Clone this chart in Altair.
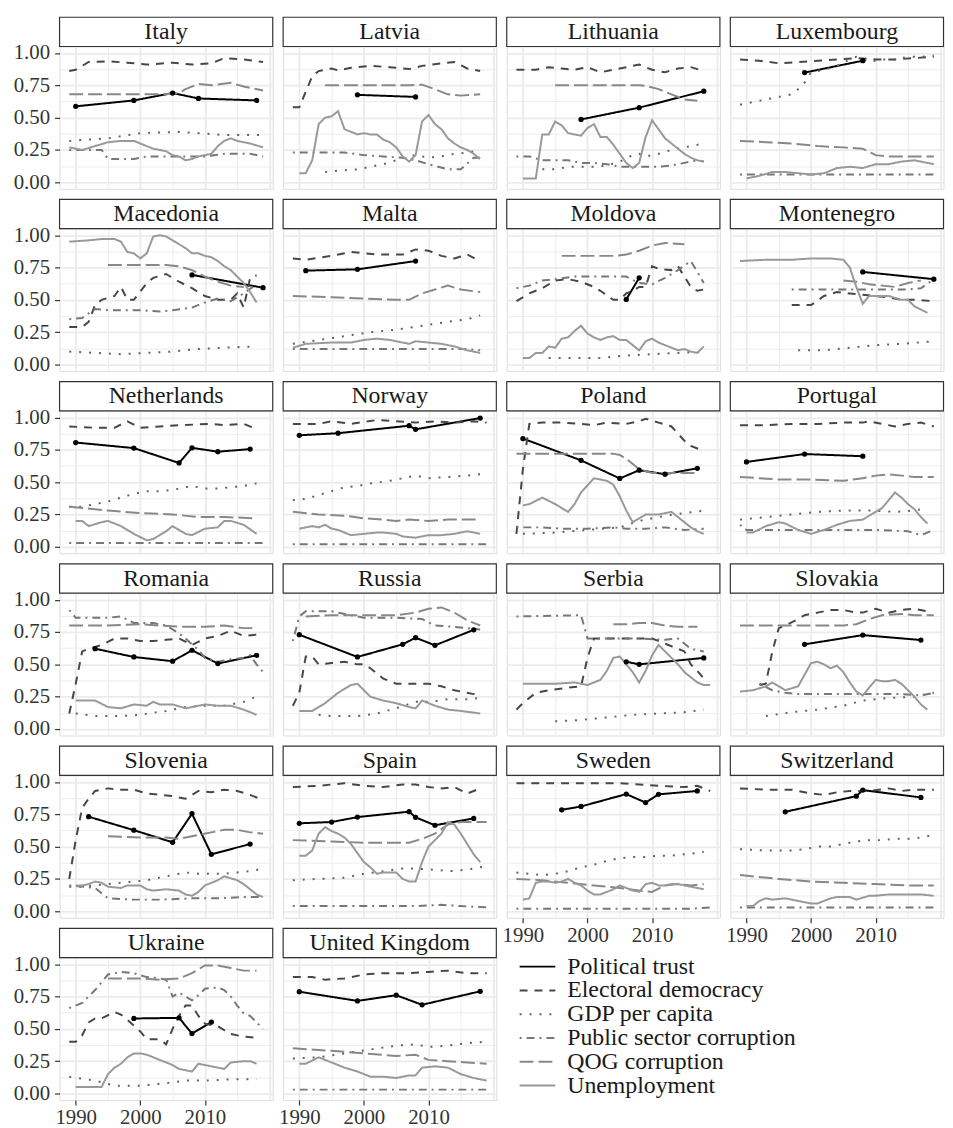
import altair as alt
import pandas as pd

FONT = "Liberation Serif"

SERIES = ["Political trust", "Electoral democracy", "GDP per capita",
          "Public sector corruption", "QOG corruption", "Unemployment"]
KEYS = ["pt", "ed", "gdp", "psc", "qog", "un"]
COLORS = ["#000000", "#474747", "#626262", "#777777", "#888888", "#999999"]
DASHES = [[1, 0], [8, 7], [2, 8], [2, 5, 8, 5], [14, 5], [1, 0]]

X_TICKS = [1990, 1995, 2000, 2005, 2010, 2015, 2020]
Y_TICKS = [0, 0.125, 0.25, 0.375, 0.5, 0.625, 0.75, 0.875, 1.0]

ITALY = dict(
    pt=[(1990, .587), (1999, .633), (2005, .69), (2009, .648), (2018, .633)],
    ed=[(1989, .86), (1990, .87), (1992, .93), (1995, .935), (1998, .925), (2001, .91), (2005, .925), (2008, .91), (2011, .92), (2013, .96), (2016, .95), (2019, .93)],
    gdp=[(1989, .32), (1992, .33), (1995, .34), (2000, .38), (2006, .39), (2009, .38), (2013, .365), (2019, .365)],
    psc=[(1989, .25), (1994, .25), (1995, .18), (1999, .18), (2001, .2), (2005, .2), (2010, .2), (2013, .22), (2017, .22), (2019, .2)],
    qog=[(1989, .68), (2004, .68), (2006, .69), (2007, .72), (2009, .76), (2011, .75), (2014, .77), (2016, .74), (2019, .71)],
    un=[(1989, .27), (1991, .25), (1993, .28), (1995, .31), (1997, .32), (1999, .32), (2001, .28), (2002, .26), (2004, .24), (2005, .21), (2006, .2), (2007, .17), (2008, .18), (2009, .2), (2011, .22), (2012, .28), (2013, .32), (2014, .34), (2015, .32), (2016, .31), (2017, .3), (2019, .27)],
)
LATVIA = dict(
    pt=[(1999, .676), (2008, .66)],
    ed=[(1989, .58), (1990, .58), (1991, .7), (1992, .82), (1993, .86), (1994, .87), (1995, .88), (1996, .865), (1998, .885), (2001, .9), (2004, .89), (2007, .875), (2009, .9), (2012, .92), (2014, .93), (2016, .88), (2018, .86)],
    gdp=[(1994, .08), (1996, .09), (1999, .1), (2001, .12), (2003, .14), (2005, .17), (2007, .2), (2008, .21), (2010, .19), (2012, .2), (2014, .22), (2016, .23), (2018, .25)],
    psc=[(1989, .23), (1997, .23), (2000, .21), (2003, .2), (2006, .19), (2008, .17), (2010, .14), (2013, .1), (2015, .1), (2017, .19), (2018, .19)],
    qog=[(1994, .75), (2007, .75), (2009, .755), (2011, .72), (2013, .68), (2015, .67), (2018, .68)],
    un=[(1990, .07), (1991, .07), (1992, .17), (1993, .45), (1994, .5), (1995, .51), (1996, .55), (1997, .41), (1998, .39), (1999, .37), (2000, .38), (2001, .37), (2002, .37), (2003, .33), (2004, .31), (2005, .27), (2006, .2), (2007, .16), (2008, .21), (2009, .47), (2010, .52), (2011, .45), (2012, .41), (2013, .34), (2014, .3), (2015, .27), (2016, .25), (2017, .22), (2018, .18)],
)
LITHUANIA = dict(
    pt=[(1999, .486), (2008, .577), (2018, .704)],
    ed=[(1989, .87), (1992, .87), (1994, .89), (1996, .88), (1998, .87), (2000, .89), (2002, .85), (2004, .87), (2006, .89), (2008, .91), (2010, .87), (2012, .85), (2014, .88), (2016, .89), (2018, .86)],
    gdp=[(1993, .1), (1995, .1), (1997, .12), (2001, .12), (2003, .13), (2005, .16), (2007, .21), (2008, .22), (2009, .2), (2011, .22), (2013, .25), (2015, .27), (2017, .29), (2018, .31)],
    psc=[(1989, .2), (1991, .2), (1993, .17), (1997, .17), (1999, .15), (2001, .15), (2003, .14), (2005, .12), (2011, .12), (2013, .13), (2015, .15), (2017, .17), (2018, .16)],
    qog=[(1995, .75), (2008, .75), (2009, .745), (2011, .72), (2013, .68), (2015, .64), (2017, .63)],
    un=[(1990, .03), (1992, .03), (1993, .37), (1994, .37), (1995, .47), (1996, .44), (1997, .38), (1998, .37), (1999, .36), (2000, .42), (2001, .45), (2002, .35), (2003, .35), (2004, .29), (2005, .22), (2006, .15), (2007, .11), (2008, .15), (2009, .35), (2010, .48), (2011, .41), (2012, .34), (2013, .3), (2014, .26), (2015, .22), (2016, .19), (2017, .17), (2018, .16)],
)
LUXEMBOURG = dict(
    pt=[(1999, .848), (2008, .94)],
    ed=[(1989, .95), (1992, .94), (1995, .92), (1998, .93), (2001, .94), (2004, .95), (2007, .96), (2010, .95), (2013, .95), (2016, .96), (2019, .97)],
    gdp=[(1989, .6), (1991, .62), (1993, .64), (1995, .66), (1997, .68), (1998, .72), (1999, .77), (2000, .85), (2002, .87), (2004, .9), (2006, .95), (2007, .97), (2009, .93), (2011, .95), (2013, .95), (2015, .97), (2017, .97), (2019, .98)],
    psc=[(1989, .06), (2019, .06)],
    qog=[(1989, .32), (1993, .31), (1997, .3), (2001, .28), (2005, .27), (2008, .26), (2010, .21), (2012, .2), (2015, .2), (2019, .2)],
    un=[(1990, .03), (1992, .05), (1994, .08), (1996, .08), (1998, .07), (2000, .06), (2002, .07), (2004, .11), (2006, .12), (2008, .11), (2010, .14), (2012, .14), (2014, .16), (2016, .17), (2019, .14)],
)
MACEDONIA = dict(
    pt=[(2008, .693), (2019, .594)],
    ed=[(1989, .29), (1991, .29), (1992, .33), (1993, .46), (1994, .5), (1996, .53), (1997, .6), (1998, .5), (1999, .5), (2001, .63), (2002, .67), (2004, .7), (2006, .64), (2008, .59), (2010, .53), (2012, .5), (2014, .5), (2015, .55), (2016, .44), (2017, .67), (2018, .69)],
    gdp=[(1989, .1), (1993, .09), (1997, .08), (2001, .09), (2005, .1), (2009, .12), (2013, .13), (2018, .14)],
    psc=[(1989, .35), (1991, .36), (1993, .43), (1995, .42), (2000, .42), (2003, .41), (2005, .42), (2008, .44), (2010, .48), (2012, .51), (2014, .49), (2016, .55), (2018, .62)],
    qog=[(1995, .77), (2004, .77), (2006, .76), (2008, .73), (2010, .68), (2012, .64), (2014, .61), (2016, .6)],
    un=[(1989, .95), (1992, .96), (1994, .97), (1996, .97), (1997, .95), (1998, .87), (1999, .86), (2000, .82), (2001, .86), (2002, .99), (2003, 1.0), (2004, .99), (2005, .96), (2006, .93), (2007, .9), (2008, .86), (2009, .86), (2010, .84), (2011, .83), (2012, .8), (2013, .76), (2014, .73), (2015, .68), (2016, .63), (2017, .56), (2018, .48)],
)
MALTA = dict(
    pt=[(1991, .726), (1999, .736), (2008, .8)],
    ed=[(1989, .82), (1991, .81), (1995, .84), (1998, .87), (2002, .85), (2006, .85), (2008, .89), (2010, .88), (2012, .84), (2014, .82), (2016, .85), (2018, .8)],
    gdp=[(1989, .16), (1993, .19), (1997, .22), (2001, .25), (2005, .27), (2009, .3), (2013, .33), (2016, .35), (2018, .38)],
    psc=[(1989, .12), (2014, .12), (2016, .12), (2018, .11)],
    qog=[(1989, .53), (1995, .52), (2000, .51), (2005, .5), (2007, .5), (2009, .55), (2011, .58), (2013, .61), (2015, .58), (2018, .56)],
    un=[(1989, .13), (1991, .16), (1995, .17), (1998, .17), (2000, .19), (2002, .2), (2004, .19), (2006, .17), (2007, .16), (2008, .18), (2010, .17), (2012, .16), (2014, .14), (2016, .11), (2018, .09)],
)
MOLDOVA = dict(
    pt=[(2006, .503), (2008, .67)],
    ed=[(1989, .49), (1991, .55), (1993, .59), (1995, .65), (1997, .66), (1999, .64), (2001, .6), (2002, .57), (2004, .5), (2005, .5), (2006, .55), (2007, .57), (2008, .6), (2009, .6), (2010, .76), (2011, .74), (2013, .73), (2014, .76), (2015, .68), (2016, .6), (2017, .57), (2018, .58)],
    gdp=[(1994, .05), (1998, .05), (2002, .05), (2006, .07), (2010, .08), (2014, .09), (2018, .1)],
    psc=[(1989, .59), (1991, .61), (1993, .65), (1995, .66), (1998, .68), (2006, .68), (2008, .63), (2010, .62), (2012, .67), (2014, .73), (2016, .8), (2018, .63)],
    qog=[(1996, .84), (2004, .84), (2006, .85), (2008, .88), (2010, .92), (2012, .94), (2015, .93)],
    un=[(1990, .05), (1991, .05), (1992, .09), (1993, .09), (1994, .14), (1995, .13), (1996, .2), (1997, .21), (1998, .26), (1999, .3), (2000, .24), (2001, .21), (2002, .19), (2003, .21), (2004, .22), (2005, .19), (2006, .19), (2007, .15), (2008, .11), (2009, .18), (2010, .2), (2011, .17), (2012, .15), (2013, .13), (2014, .11), (2015, .12), (2016, .1), (2017, .09), (2018, .14)],
)
MONTENEGRO = dict(
    pt=[(2008, .716), (2019, .66)],
    ed=[(1997, .46), (2000, .46), (2002, .53), (2004, .56), (2006, .55), (2008, .54), (2010, .53), (2012, .52), (2014, .5), (2016, .5), (2019, .49)],
    gdp=[(1998, .11), (2002, .11), (2006, .13), (2010, .15), (2014, .16), (2019, .18)],
    psc=[(1997, .58), (2001, .58), (2005, .58), (2009, .58), (2012, .58), (2015, .58), (2017, .59), (2019, .66)],
    qog=[(2005, .65), (2007, .64), (2009, .62), (2011, .61), (2013, .6), (2015, .63), (2017, .65)],
    un=[(1989, .8), (1993, .81), (1997, .81), (2000, .82), (2003, .82), (2005, .81), (2006, .75), (2007, .6), (2008, .47), (2009, .53), (2010, .53), (2012, .53), (2014, .5), (2015, .5), (2016, .45), (2018, .4)],
)
NETHERLANDS = dict(
    pt=[(1990, .806), (1999, .763), (2006, .648), (2008, .765), (2012, .735), (2017, .755)],
    ed=[(1989, .93), (1993, .92), (1996, .92), (1998, .97), (2000, .92), (2003, .93), (2006, .94), (2011, .95), (2013, .94), (2016, .95), (2018, .91)],
    gdp=[(1989, .31), (1991, .31), (1993, .33), (1995, .35), (1997, .38), (1999, .41), (2001, .43), (2003, .43), (2005, .44), (2007, .46), (2008, .47), (2010, .45), (2012, .45), (2014, .46), (2016, .47), (2018, .49)],
    psc=[(1989, .03), (2019, .03)],
    qog=[(1989, .31), (1995, .28), (2000, .26), (2005, .25), (2009, .23), (2013, .23), (2018, .22)],
    un=[(1990, .2), (1991, .2), (1992, .16), (1994, .19), (1995, .2), (1997, .16), (1999, .1), (2001, .05), (2002, .06), (2004, .12), (2005, .16), (2007, .1), (2008, .09), (2010, .14), (2012, .15), (2013, .2), (2014, .2), (2016, .17), (2018, .1)],
)
NORWAY = dict(
    pt=[(1990, .862), (1996, .878), (2007, .936), (2008, .908), (2018, .995)],
    ed=[(1989, .95), (1993, .95), (1995, .97), (1998, .95), (2002, .98), (2005, .97), (2008, .96), (2011, .97), (2014, .96), (2017, .97), (2019, .96)],
    gdp=[(1989, .36), (1991, .37), (1993, .4), (1995, .43), (1997, .46), (1999, .47), (2001, .49), (2004, .51), (2006, .53), (2008, .55), (2010, .53), (2013, .54), (2016, .55), (2018, .56)],
    psc=[(1989, .02), (2019, .02)],
    qog=[(1989, .27), (1993, .25), (1997, .24), (2000, .22), (2003, .21), (2005, .2), (2007, .21), (2010, .2), (2013, .21), (2016, .21), (2018, .21)],
    un=[(1990, .14), (1992, .16), (1993, .15), (1994, .17), (1995, .14), (1996, .13), (1998, .09), (2000, .1), (2002, .11), (2003, .11), (2005, .1), (2006, .08), (2008, .07), (2010, .09), (2012, .09), (2014, .1), (2016, .12), (2018, .1)],
)
POLAND = dict(
    pt=[(1990, .837), (1999, .668), (2005, .528), (2008, .592), (2012, .561), (2017, .607)],
    ed=[(1989, .1), (1990, .6), (1991, .95), (1993, .96), (1996, .96), (1999, .95), (2001, .94), (2003, .96), (2006, .95), (2008, .97), (2009, .99), (2011, .96), (2013, .93), (2015, .82), (2016, .78), (2018, .74)],
    gdp=[(1990, .1), (1995, .11), (2000, .13), (2005, .15), (2008, .2), (2012, .24), (2015, .26), (2018, .28)],
    psc=[(1989, .15), (1993, .15), (1996, .14), (2000, .14), (2004, .15), (2006, .14), (2009, .14), (2012, .15), (2015, .13), (2018, .14)],
    qog=[(1989, .72), (2004, .72), (2005, .71), (2006, .68), (2008, .6), (2010, .57), (2017, .57)],
    un=[(1990, .32), (1991, .33), (1993, .38), (1995, .33), (1997, .27), (1998, .33), (1999, .42), (2001, .53), (2002, .52), (2003, .51), (2004, .48), (2005, .39), (2006, .28), (2007, .19), (2008, .22), (2009, .25), (2011, .25), (2013, .27), (2014, .23), (2015, .19), (2016, .15), (2017, .12), (2018, .1)],
)
PORTUGAL = dict(
    pt=[(1990, .656), (1999, .717), (2008, .7)],
    ed=[(1989, .94), (1993, .94), (1997, .95), (2001, .95), (2005, .96), (2008, .96), (2009, .97), (2011, .95), (2013, .93), (2015, .95), (2017, .96), (2019, .93)],
    gdp=[(1989, .21), (1993, .23), (1997, .25), (2001, .27), (2005, .28), (2009, .28), (2013, .27), (2016, .28), (2018, .3)],
    psc=[(1989, .17), (1990, .13), (2000, .13), (2005, .13), (2010, .13), (2015, .12), (2017, .09), (2019, .13)],
    qog=[(1989, .54), (1995, .52), (2000, .52), (2005, .51), (2008, .53), (2010, .55), (2012, .56), (2014, .55), (2016, .54), (2019, .54)],
    un=[(1990, .11), (1991, .11), (1993, .16), (1995, .19), (1996, .18), (1998, .13), (2000, .1), (2002, .13), (2004, .17), (2006, .2), (2008, .21), (2009, .24), (2011, .3), (2012, .36), (2013, .42), (2014, .38), (2015, .33), (2016, .29), (2017, .23), (2018, .18)],
)
ROMANIA = dict(
    pt=[(1993, .621), (1999, .557), (2005, .524), (2008, .609), (2012, .506), (2018, .57)],
    ed=[(1989, .12), (1990, .35), (1991, .6), (1992, .62), (1994, .65), (1996, .7), (1998, .7), (2000, .68), (2002, .68), (2004, .69), (2006, .7), (2008, .65), (2010, .7), (2012, .72), (2014, .76), (2016, .72), (2018, .73)],
    gdp=[(1990, .12), (1993, .1), (1997, .1), (2000, .11), (2004, .14), (2007, .17), (2010, .18), (2013, .18), (2016, .21), (2018, .25)],
    psc=[(1989, .92), (1990, .86), (1995, .86), (1997, .87), (1999, .82), (2002, .82), (2004, .8), (2006, .74), (2007, .7), (2009, .61), (2010, .55), (2012, .52), (2014, .54), (2016, .55), (2017, .57), (2018, .5), (2019, .44)],
    qog=[(1989, .8), (1995, .8), (2000, .81), (2003, .8), (2007, .79), (2010, .79), (2013, .8), (2016, .78), (2018, .78)],
    un=[(1990, .22), (1993, .22), (1995, .17), (1997, .16), (1999, .19), (2001, .18), (2002, .21), (2003, .19), (2005, .19), (2007, .16), (2008, .17), (2010, .19), (2012, .18), (2014, .18), (2016, .15), (2018, .11)],
)
RUSSIA = dict(
    pt=[(1990, .729), (1999, .557), (2006, .655), (2008, .706), (2011, .647), (2017, .767)],
    ed=[(1989, .18), (1990, .28), (1991, .56), (1992, .56), (1993, .5), (1995, .51), (1997, .52), (1999, .5), (2000, .5), (2001, .47), (2003, .39), (2005, .35), (2008, .35), (2010, .35), (2012, .33), (2014, .3), (2017, .27), (2018, .26)],
    gdp=[(1993, .11), (1995, .1), (1999, .1), (2002, .12), (2005, .16), (2008, .21), (2010, .21), (2013, .23), (2016, .23), (2018, .24)],
    psc=[(1989, .68), (1990, .87), (1991, .91), (1995, .91), (1998, .88), (2000, .86), (2005, .86), (2009, .85), (2011, .8), (2014, .79), (2018, .77)],
    qog=[(1991, .87), (1995, .88), (2000, .88), (2005, .88), (2008, .9), (2010, .93), (2012, .94), (2014, .9), (2016, .84), (2018, .8)],
    un=[(1990, .14), (1992, .14), (1994, .2), (1996, .28), (1998, .34), (1999, .35), (2000, .3), (2001, .25), (2003, .22), (2005, .2), (2007, .17), (2008, .16), (2009, .22), (2011, .18), (2013, .15), (2015, .14), (2018, .12)],
)
SERBIA = dict(
    pt=[(2006, .52), (2008, .5), (2018, .55)],
    ed=[(1989, .15), (1990, .2), (1992, .28), (1994, .3), (1997, .32), (1999, .33), (2000, .55), (2001, .7), (2004, .7), (2010, .7), (2012, .66), (2013, .64), (2015, .6), (2016, .5), (2017, .45), (2018, .39)],
    gdp=[(1995, .06), (1999, .07), (2003, .09), (2007, .11), (2011, .12), (2015, .13), (2018, .15)],
    psc=[(1989, .87), (1999, .88), (2000, .7), (2008, .7), (2012, .69), (2014, .7), (2016, .62), (2018, .6)],
    qog=[(2004, .81), (2006, .81), (2008, .82), (2010, .82), (2012, .8), (2014, .79), (2017, .79)],
    un=[(1990, .35), (1995, .35), (1998, .36), (1999, .35), (2000, .34), (2001, .36), (2002, .38), (2003, .45), (2004, .55), (2005, .56), (2006, .5), (2007, .44), (2008, .36), (2009, .45), (2010, .57), (2011, .65), (2012, .6), (2013, .55), (2014, .5), (2015, .44), (2016, .4), (2017, .36), (2018, .34), (2019, .34)],
)
SLOVAKIA = dict(
    pt=[(1999, .655), (2008, .726), (2017, .688)],
    ed=[(1992, .34), (1993, .35), (1994, .6), (1995, .78), (1996, .8), (1998, .85), (1999, .88), (2001, .9), (2003, .92), (2005, .92), (2007, .9), (2008, .9), (2010, .93), (2012, .9), (2014, .92), (2016, .93), (2018, .91)],
    gdp=[(1993, .1), (1997, .13), (2001, .15), (2005, .18), (2008, .22), (2012, .24), (2016, .25), (2019, .28)],
    psc=[(1992, .35), (1994, .3), (1996, .28), (1998, .27), (2002, .27), (2006, .27), (2010, .27), (2014, .27), (2017, .26), (2019, .28)],
    qog=[(1989, .8), (1995, .8), (2000, .8), (2005, .8), (2007, .81), (2009, .85), (2011, .88), (2014, .89), (2016, .88), (2019, .88)],
    un=[(1989, .29), (1991, .3), (1993, .33), (1994, .36), (1996, .3), (1998, .33), (1999, .42), (2000, .51), (2001, .52), (2002, .5), (2003, .47), (2004, .49), (2005, .44), (2006, .36), (2007, .29), (2008, .26), (2009, .32), (2010, .38), (2011, .37), (2012, .37), (2013, .38), (2014, .35), (2015, .3), (2016, .25), (2017, .19), (2018, .15)],
)
SLOVENIA = dict(
    pt=[(1992, .731), (1999, .627), (2005, .533), (2008, .754), (2011, .44), (2017, .52)],
    ed=[(1989, .25), (1990, .55), (1991, .8), (1992, .87), (1993, .93), (1995, .95), (1997, .94), (1999, .94), (2001, .91), (2003, .9), (2005, .89), (2007, .87), (2009, .93), (2011, .92), (2013, .94), (2015, .93), (2017, .9), (2019, .86)],
    gdp=[(1989, .19), (1991, .19), (1993, .2), (1995, .21), (1997, .22), (1999, .23), (2001, .24), (2003, .26), (2005, .28), (2007, .3), (2009, .29), (2011, .29), (2013, .29), (2015, .3), (2017, .31), (2019, .33)],
    psc=[(1989, .2), (1993, .18), (1995, .1), (1999, .09), (2003, .09), (2008, .1), (2012, .1), (2016, .11), (2019, .11)],
    qog=[(1995, .58), (2000, .57), (2004, .57), (2006, .56), (2008, .58), (2011, .61), (2013, .63), (2015, .63), (2017, .61), (2019, .6)],
    un=[(1990, .2), (1991, .2), (1992, .21), (1993, .23), (1994, .22), (1995, .19), (1997, .18), (1998, .2), (2000, .2), (2001, .17), (2002, .16), (2004, .17), (2006, .16), (2007, .13), (2008, .12), (2009, .15), (2010, .2), (2012, .24), (2013, .27), (2015, .24), (2016, .21), (2017, .17), (2018, .13), (2019, .11)],
)
SPAIN = dict(
    pt=[(1990, .68), (1995, .69), (1999, .728), (2007, .77), (2008, .726), (2011, .665), (2017, .718)],
    ed=[(1989, .96), (1993, .97), (1997, .99), (2000, .97), (2003, .96), (2006, .98), (2008, .98), (2010, .96), (2012, .95), (2014, .96), (2016, .91), (2018, .95)],
    gdp=[(1989, .24), (1993, .25), (1997, .26), (2000, .29), (2003, .31), (2006, .33), (2008, .33), (2011, .32), (2014, .31), (2017, .33), (2019, .35)],
    psc=[(1989, .04), (2008, .04), (2012, .05), (2015, .04), (2019, .03)],
    qog=[(1989, .55), (1995, .54), (2000, .53), (2005, .53), (2007, .53), (2009, .56), (2011, .6), (2013, .67), (2015, .69), (2017, .69), (2019, .69)],
    un=[(1990, .43), (1991, .43), (1992, .47), (1993, .6), (1994, .65), (1995, .62), (1996, .6), (1997, .57), (1998, .52), (1999, .45), (2000, .38), (2001, .34), (2002, .29), (2003, .3), (2005, .3), (2006, .25), (2007, .23), (2008, .23), (2009, .38), (2010, .5), (2011, .55), (2012, .6), (2013, .69), (2014, .67), (2015, .6), (2016, .52), (2017, .44), (2018, .38)],
)
SWEDEN = dict(
    pt=[(1996, .784), (1999, .81), (2006, .906), (2009, .84), (2011, .904), (2017, .93)],
    ed=[(1989, .99), (1995, .99), (2000, .99), (2005, .99), (2008, .98), (2011, .97), (2015, .96), (2017, .97), (2019, .93)],
    gdp=[(1989, .3), (1991, .29), (1993, .28), (1995, .29), (1997, .31), (1999, .34), (2001, .36), (2003, .39), (2005, .41), (2007, .42), (2009, .42), (2011, .43), (2013, .43), (2015, .44), (2017, .45), (2018, .46)],
    psc=[(1989, .02), (2016, .02), (2019, .03)],
    qog=[(1989, .25), (1993, .24), (1997, .22), (2001, .2), (2005, .18), (2008, .16), (2010, .15), (2012, .2), (2014, .21), (2016, .2), (2018, .21)],
    un=[(1990, .09), (1991, .1), (1992, .22), (1993, .23), (1994, .23), (1995, .22), (1996, .23), (1997, .25), (1998, .22), (1999, .2), (2000, .16), (2001, .13), (2002, .13), (2003, .15), (2004, .17), (2005, .2), (2006, .18), (2007, .16), (2008, .15), (2009, .21), (2010, .22), (2011, .2), (2012, .2), (2013, .21), (2014, .21), (2015, .2), (2016, .19), (2017, .18), (2018, .17)],
)
SWITZERLAND = dict(
    pt=[(1996, .769), (2007, .89), (2008, .937), (2017, .88)],
    ed=[(1989, .95), (1993, .94), (1997, .94), (2000, .91), (2002, .9), (2004, .92), (2006, .93), (2009, .93), (2012, .95), (2014, .93), (2016, .94), (2019, .94)],
    gdp=[(1989, .48), (1993, .47), (1997, .47), (1999, .48), (2001, .5), (2003, .5), (2005, .52), (2007, .54), (2009, .55), (2011, .55), (2013, .56), (2015, .56), (2017, .57), (2019, .59)],
    psc=[(1989, .03), (2019, .03)],
    qog=[(1989, .28), (1995, .25), (2000, .23), (2005, .22), (2010, .21), (2015, .2), (2019, .2)],
    un=[(1990, .04), (1991, .04), (1992, .08), (1993, .1), (1994, .09), (1996, .1), (1998, .08), (2000, .06), (2001, .06), (2003, .1), (2004, .11), (2006, .11), (2007, .09), (2009, .12), (2010, .12), (2012, .13), (2015, .13), (2017, .13), (2019, .12)],
)
UKRAINE = dict(
    pt=[(1999, .58), (2006, .585), (2008, .463), (2011, .552)],
    ed=[(1989, .4), (1990, .4), (1991, .45), (1992, .55), (1993, .58), (1994, .58), (1996, .63), (1997, .61), (1998, .57), (2000, .48), (2001, .42), (2003, .42), (2004, .38), (2005, .5), (2006, .6), (2007, .68), (2008, .68), (2009, .6), (2010, .54), (2012, .52), (2014, .46), (2016, .44), (2018, .43)],
    gdp=[(1989, .13), (1993, .1), (1996, .06), (2000, .06), (2004, .08), (2007, .1), (2010, .1), (2014, .11), (2018, .11)],
    psc=[(1989, .66), (1991, .7), (1993, .8), (1995, .92), (1997, .94), (1999, .93), (2001, .9), (2003, .89), (2004, .88), (2005, .75), (2006, .78), (2007, .75), (2008, .72), (2009, .76), (2010, .81), (2012, .82), (2013, .8), (2014, .75), (2015, .68), (2016, .62), (2017, .6), (2018, .55), (2019, .5)],
    qog=[(1995, .89), (2000, .89), (2003, .88), (2006, .89), (2008, .93), (2010, .99), (2012, .99), (2014, .97), (2016, .95), (2018, .95)],
    un=[(1990, .05), (1994, .05), (1995, .15), (1996, .2), (1997, .23), (1998, .28), (1999, .31), (2000, .31), (2001, .3), (2003, .26), (2005, .22), (2006, .19), (2007, .18), (2008, .17), (2009, .23), (2010, .22), (2012, .2), (2013, .19), (2014, .24), (2016, .25), (2017, .25), (2018, .23)],
)
UNITED_KINGDOM = dict(
    pt=[(1990, .787), (1999, .716), (2005, .76), (2009, .686), (2018, .79)],
    ed=[(1989, .9), (1992, .9), (1994, .88), (1997, .89), (2000, .92), (2003, .93), (2007, .93), (2010, .94), (2013, .95), (2016, .93), (2019, .93)],
    gdp=[(1989, .27), (1993, .28), (1997, .31), (2001, .34), (2005, .37), (2008, .38), (2010, .36), (2013, .37), (2016, .39), (2019, .4)],
    psc=[(1989, .03), (2019, .03)],
    qog=[(1989, .35), (1995, .33), (2000, .31), (2005, .29), (2008, .3), (2010, .26), (2013, .25), (2016, .24), (2019, .23)],
    un=[(1990, .23), (1991, .23), (1993, .28), (1995, .24), (1997, .2), (1999, .17), (2001, .13), (2003, .13), (2005, .12), (2007, .14), (2008, .14), (2009, .2), (2011, .21), (2013, .2), (2015, .15), (2017, .12), (2019, .1)],
)

COUNTRIES = [
    ("Italy", ITALY), ("Latvia", LATVIA), ("Lithuania", LITHUANIA), ("Luxembourg", LUXEMBOURG),
    ("Macedonia", MACEDONIA), ("Malta", MALTA), ("Moldova", MOLDOVA), ("Montenegro", MONTENEGRO),
    ("Netherlands", NETHERLANDS), ("Norway", NORWAY), ("Poland", POLAND), ("Portugal", PORTUGAL),
    ("Romania", ROMANIA), ("Russia", RUSSIA), ("Serbia", SERBIA), ("Slovakia", SLOVAKIA),
    ("Slovenia", SLOVENIA), ("Spain", SPAIN), ("Sweden", SWEDEN), ("Switzerland", SWITZERLAND),
    ("Ukraine", UKRAINE), ("United Kingdom", UNITED_KINGDOM),
]

records = []
for cname, cdata in COUNTRIES:
    for key, sname in zip(KEYS, SERIES):
        for yr, val in cdata[key]:
            records.append({"country": cname, "series": sname, "year": yr, "value": val})
df = pd.DataFrame(records)
strip_df = pd.DataFrame({"country": [c for c, _ in COUNTRIES]})

W, H, SH = 215, 143.5, 29.5
NCOL = 4

LEG = alt.Legend(title=None, orient="none", legendX=463, legendY=917, padding=0,
                 symbolType="stroke", symbolSize=1296, symbolStrokeWidth=2,
                 labelFont=FONT, labelFontSize=24, labelColor="#1a1a1a",
                 labelOffset=11, labelLimit=500, clipHeight=22, rowPadding=0)

COLOR = alt.Color("series:N", scale=alt.Scale(domain=SERIES, range=COLORS), legend=LEG)
DASH = alt.StrokeDash("series:N", scale=alt.Scale(domain=SERIES, range=DASHES), legend=LEG)


def x_axis(show):
    major = "datum.value % 10 === 0"
    lab = "datum.value % 10 === 0 && datum.value < 2020"
    return alt.Axis(values=X_TICKS, title=None, domain=False, grid=True, gridColor="#ebebeb",
                    gridWidth={"condition": {"test": major, "value": 1.8}, "value": 0.9},
                    labels=show, ticks=show, format="d",
                    labelExpr=f"{lab} ? datum.label : ''",
                    tickOpacity={"condition": {"test": lab, "value": 1}, "value": 0},
                    labelFont=FONT, labelFontSize=21, labelColor="#333333",
                    tickColor="#333333", tickSize=5, tickWidth=1.2, labelPadding=2,
                    labelFlush=False, labelOverlap=False)


def y_axis(show):
    major = "(datum.value * 4) % 1 === 0"
    return alt.Axis(values=Y_TICKS, title=None, domain=False, grid=True, gridColor="#ebebeb",
                    gridWidth={"condition": {"test": major, "value": 1.8}, "value": 0.9},
                    labels=show, ticks=show, format=".2f",
                    labelExpr=f"{major} ? datum.label : ''",
                    tickOpacity={"condition": {"test": major, "value": 1}, "value": 0},
                    labelFont=FONT, labelFontSize=21, labelColor="#333333",
                    tickColor="#333333", tickSize=5, tickWidth=1.2, labelPadding=5,
                    labelFlush=False, labelOverlap=False)


def panel(name, show_y, show_x):
    base = alt.Chart(df).transform_filter(alt.datum.country == name)
    X = alt.X("year:Q", scale=alt.Scale(domain=[1987.5, 2020.5], nice=False, zero=False),
              axis=x_axis(show_x))
    Y = alt.Y("value:Q", scale=alt.Scale(domain=[-0.05, 1.05], nice=False, zero=False),
              axis=y_axis(show_y))
    lines = base.mark_line(strokeWidth=2).encode(x=X, y=Y, color=COLOR, strokeDash=DASH)
    pts = base.transform_filter(alt.datum.series == SERIES[0]).mark_circle(
        size=28, color="#000000", opacity=1).encode(x=X, y=Y)
    sbase = alt.Chart(strip_df).transform_filter(alt.datum.country == name)
    strip_box = sbase.mark_rect(fill="white", stroke="#333333", strokeWidth=1.2).encode(
        x=alt.value(0), x2=alt.value(W), y=alt.value(-SH), y2=alt.value(0))
    strip_txt = sbase.mark_text(font=FONT, fontSize=24, color="#1a1a1a",
                                baseline="middle", align="center").encode(
        x=alt.value(W / 2), y=alt.value(-SH / 2), text="country:N")
    return alt.layer(strip_box, strip_txt, lines, pts).properties(width=W, height=H)


n = len(COUNTRIES)
panels = []
for i, (cname, _) in enumerate(COUNTRIES):
    show_y = (i % NCOL) == 0
    show_x = (i + NCOL) >= n
    panels.append(panel(cname, show_y, show_x))

chart = alt.concat(*panels, columns=NCOL, spacing={"row": SH + 10.3, "column": 10.5},
                   bounds="flush").properties(
    padding={"left": 4, "top": 3, "right": 0, "bottom": 0}
).configure_view(stroke="#333333", strokeWidth=1.2, fill="white").configure(
    font=FONT, background="white"
)

chart.save("out.html", embed_options={"renderer": "svg", "actions": False})
